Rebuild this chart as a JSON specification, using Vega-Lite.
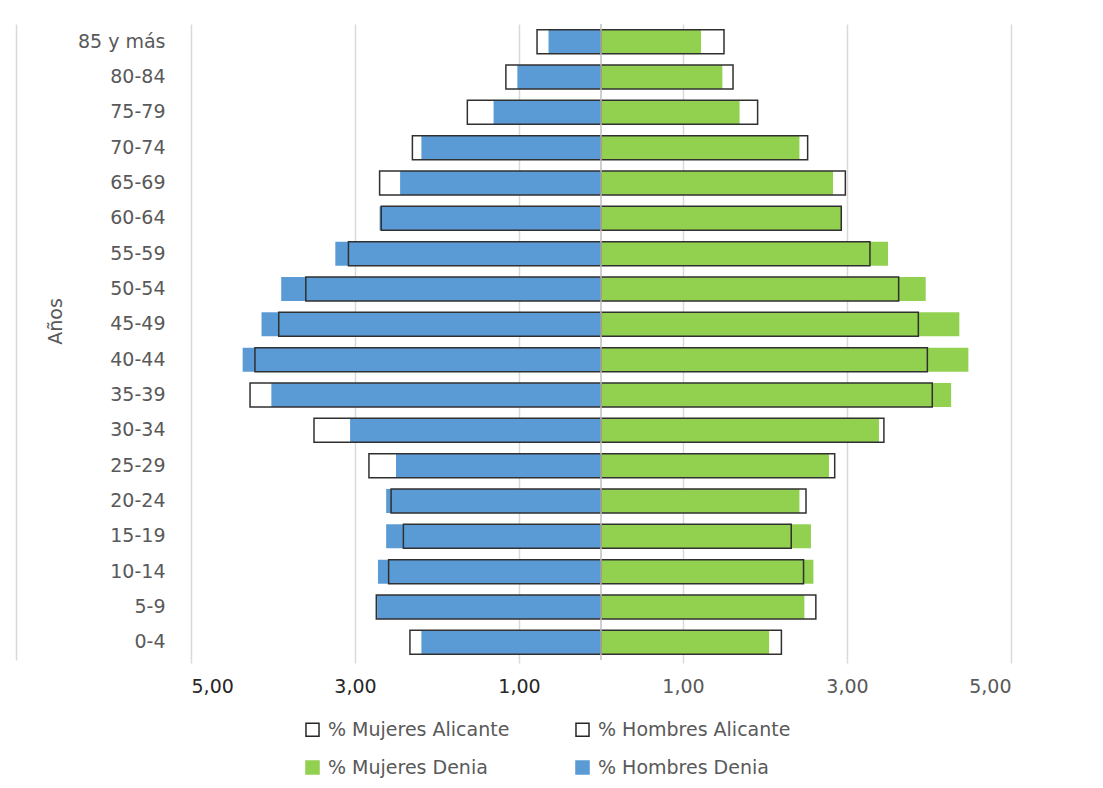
{
  "$schema": "https://vega.github.io/schema/vega-lite/v6.json",
  "width": 820,
  "height": 636,
  "autosize": {"type": "none"},
  "padding": {"left": 191, "top": 24, "right": 92, "bottom": 128},
  "background": "white",
  "config": {"font": "DejaVu Sans", "view": {"stroke": null}},
  "datasets": {
    "pop": [
      {"edad": "85 y más", "serie": "% Hombres Denia", "valor": -0.64},
      {"edad": "85 y más", "serie": "% Hombres Alicante", "valor": -0.78},
      {"edad": "85 y más", "serie": "% Mujeres Denia", "valor": 1.22},
      {"edad": "85 y más", "serie": "% Mujeres Alicante", "valor": 1.50},
      {"edad": "80-84", "serie": "% Hombres Denia", "valor": -1.02},
      {"edad": "80-84", "serie": "% Hombres Alicante", "valor": -1.16},
      {"edad": "80-84", "serie": "% Mujeres Denia", "valor": 1.48},
      {"edad": "80-84", "serie": "% Mujeres Alicante", "valor": 1.61},
      {"edad": "75-79", "serie": "% Hombres Denia", "valor": -1.31},
      {"edad": "75-79", "serie": "% Hombres Alicante", "valor": -1.63},
      {"edad": "75-79", "serie": "% Mujeres Denia", "valor": 1.69},
      {"edad": "75-79", "serie": "% Mujeres Alicante", "valor": 1.91},
      {"edad": "70-74", "serie": "% Hombres Denia", "valor": -2.19},
      {"edad": "70-74", "serie": "% Hombres Alicante", "valor": -2.30},
      {"edad": "70-74", "serie": "% Mujeres Denia", "valor": 2.42},
      {"edad": "70-74", "serie": "% Mujeres Alicante", "valor": 2.52},
      {"edad": "65-69", "serie": "% Hombres Denia", "valor": -2.45},
      {"edad": "65-69", "serie": "% Hombres Alicante", "valor": -2.70},
      {"edad": "65-69", "serie": "% Mujeres Denia", "valor": 2.83},
      {"edad": "65-69", "serie": "% Mujeres Alicante", "valor": 2.98},
      {"edad": "60-64", "serie": "% Hombres Denia", "valor": -2.70},
      {"edad": "60-64", "serie": "% Hombres Alicante", "valor": -2.68},
      {"edad": "60-64", "serie": "% Mujeres Denia", "valor": 2.94},
      {"edad": "60-64", "serie": "% Mujeres Alicante", "valor": 2.93},
      {"edad": "55-59", "serie": "% Hombres Denia", "valor": -3.24},
      {"edad": "55-59", "serie": "% Hombres Alicante", "valor": -3.08},
      {"edad": "55-59", "serie": "% Mujeres Denia", "valor": 3.50},
      {"edad": "55-59", "serie": "% Mujeres Alicante", "valor": 3.28},
      {"edad": "50-54", "serie": "% Hombres Denia", "valor": -3.90},
      {"edad": "50-54", "serie": "% Hombres Alicante", "valor": -3.60},
      {"edad": "50-54", "serie": "% Mujeres Denia", "valor": 3.96},
      {"edad": "50-54", "serie": "% Mujeres Alicante", "valor": 3.63},
      {"edad": "45-49", "serie": "% Hombres Denia", "valor": -4.14},
      {"edad": "45-49", "serie": "% Hombres Alicante", "valor": -3.93},
      {"edad": "45-49", "serie": "% Mujeres Denia", "valor": 4.37},
      {"edad": "45-49", "serie": "% Mujeres Alicante", "valor": 3.87},
      {"edad": "40-44", "serie": "% Hombres Denia", "valor": -4.37},
      {"edad": "40-44", "serie": "% Hombres Alicante", "valor": -4.22},
      {"edad": "40-44", "serie": "% Mujeres Denia", "valor": 4.48},
      {"edad": "40-44", "serie": "% Mujeres Alicante", "valor": 3.98},
      {"edad": "35-39", "serie": "% Hombres Denia", "valor": -4.02},
      {"edad": "35-39", "serie": "% Hombres Alicante", "valor": -4.28},
      {"edad": "35-39", "serie": "% Mujeres Denia", "valor": 4.27},
      {"edad": "35-39", "serie": "% Mujeres Alicante", "valor": 4.04},
      {"edad": "30-34", "serie": "% Hombres Denia", "valor": -3.06},
      {"edad": "30-34", "serie": "% Hombres Alicante", "valor": -3.50},
      {"edad": "30-34", "serie": "% Mujeres Denia", "valor": 3.39},
      {"edad": "30-34", "serie": "% Mujeres Alicante", "valor": 3.45},
      {"edad": "25-29", "serie": "% Hombres Denia", "valor": -2.50},
      {"edad": "25-29", "serie": "% Hombres Alicante", "valor": -2.83},
      {"edad": "25-29", "serie": "% Mujeres Denia", "valor": 2.78},
      {"edad": "25-29", "serie": "% Mujeres Alicante", "valor": 2.85},
      {"edad": "20-24", "serie": "% Hombres Denia", "valor": -2.62},
      {"edad": "20-24", "serie": "% Hombres Alicante", "valor": -2.56},
      {"edad": "20-24", "serie": "% Mujeres Denia", "valor": 2.42},
      {"edad": "20-24", "serie": "% Mujeres Alicante", "valor": 2.50},
      {"edad": "15-19", "serie": "% Hombres Denia", "valor": -2.62},
      {"edad": "15-19", "serie": "% Hombres Alicante", "valor": -2.41},
      {"edad": "15-19", "serie": "% Mujeres Denia", "valor": 2.56},
      {"edad": "15-19", "serie": "% Mujeres Alicante", "valor": 2.32},
      {"edad": "10-14", "serie": "% Hombres Denia", "valor": -2.72},
      {"edad": "10-14", "serie": "% Hombres Alicante", "valor": -2.59},
      {"edad": "10-14", "serie": "% Mujeres Denia", "valor": 2.59},
      {"edad": "10-14", "serie": "% Mujeres Alicante", "valor": 2.47},
      {"edad": "5-9", "serie": "% Hombres Denia", "valor": -2.73},
      {"edad": "5-9", "serie": "% Hombres Alicante", "valor": -2.74},
      {"edad": "5-9", "serie": "% Mujeres Denia", "valor": 2.48},
      {"edad": "5-9", "serie": "% Mujeres Alicante", "valor": 2.62},
      {"edad": "0-4", "serie": "% Hombres Denia", "valor": -2.19},
      {"edad": "0-4", "serie": "% Hombres Alicante", "valor": -2.33},
      {"edad": "0-4", "serie": "% Mujeres Denia", "valor": 2.05},
      {"edad": "0-4", "serie": "% Mujeres Alicante", "valor": 2.20}
    ],
    "eje": [{"cero": 0}]
  },
  "layer": [
    {
      "data": {"name": "pop"},
      "transform": [{"filter": {"field": "serie", "oneOf": ["% Hombres Denia", "% Mujeres Denia"]}}],
      "mark": {"type": "bar"},
      "encoding": {
        "x": {
          "field": "valor", "type": "quantitative",
          "scale": {"domain": [-5, 5], "nice": false, "zero": false},
          "axis": {
            "title": null,
            "values": [-5, -3, -1, 1, 3, 5],
            "labelExpr": "replace(format(abs(datum.value), '.2f'), '.', ',')",
            "grid": true, "gridColor": "#d9d9d9", "gridWidth": 1.5,
            "domain": false,
            "ticks": true, "tickColor": "#d9d9d9", "tickSize": 3, "tickWidth": 1.5,
            "labelPadding": 14, "labelFontSize": 19,
            "labelColor": {"condition": {"test": "datum.value < 0", "value": "#262626"}, "value": "#595959"}
          }
        },
        "y": {
          "field": "edad", "type": "nominal",
          "sort": ["85 y más", "80-84", "75-79", "70-74", "65-69", "60-64", "55-59", "50-54", "45-49", "40-44", "35-39", "30-34", "25-29", "20-24", "15-19", "10-14", "5-9", "0-4"],
          "scale": {"paddingInner": 0.32, "paddingOuter": 0.16},
          "axis": {
            "title": "Años", "titleFontSize": 19, "titleFontWeight": "normal", "titleColor": "#595959",
            "titleAngle": 270, "titleX": 39, "titleY": 297, "titleBaseline": "middle", "titleAlign": "center",
            "labelFontSize": 19, "labelColor": "#595959", "labelPadding": -149,
            "offset": 175, "ticks": false, "tickSize": 0,
            "domain": true, "domainColor": "#d9d9d9", "domainWidth": 1.5, "grid": false
          }
        },
        "fill": {
          "field": "serie", "type": "nominal",
          "scale": {
            "domain": ["% Mujeres Alicante", "% Hombres Alicante", "% Mujeres Denia", "% Hombres Denia"],
            "range": ["transparent", "transparent", "#92D050", "#5B9BD5"]
          },
          "legend": {
            "title": null, "orient": "none", "legendX": 112, "legendY": 696,
            "direction": "horizontal",
            "columns": 2, "columnPadding": 62, "rowPadding": 17,
            "labelLimit": 400,
            "symbolType": "square", "symbolSize": 170, "symbolStrokeWidth": 1.5,
            "labelFontSize": 19, "labelColor": "#595959", "labelOffset": 6,
            "encode": {
              "symbols": {
                "update": {
                  "stroke": {"signal": "(datum.value == '% Mujeres Alicante' || datum.value == '% Hombres Alicante') ? '#262626' : (datum.value == '% Mujeres Denia' ? '#92D050' : '#5B9BD5')"},
                  "strokeWidth": {"value": 1.5},
                  "opacity": {"value": 1}
                }
              }
            }
          }
        }
      }
    },
    {
      "data": {"name": "pop"},
      "transform": [{"filter": {"field": "serie", "oneOf": ["% Hombres Alicante", "% Mujeres Alicante"]}}],
      "mark": {"type": "bar", "stroke": "#303030", "strokeWidth": 1.5},
      "encoding": {
        "x": {"field": "valor", "type": "quantitative"},
        "y": {"field": "edad", "type": "nominal", "sort": ["85 y más", "80-84", "75-79", "70-74", "65-69", "60-64", "55-59", "50-54", "45-49", "40-44", "35-39", "30-34", "25-29", "20-24", "15-19", "10-14", "5-9", "0-4"]},
        "fill": {"field": "serie", "type": "nominal"}
      }
    },
    {
      "data": {"name": "eje"},
      "mark": {"type": "rule", "color": "#bfbfbf", "strokeWidth": 1.5},
      "encoding": {"x": {"field": "cero", "type": "quantitative"}}
    }
  ]
}
